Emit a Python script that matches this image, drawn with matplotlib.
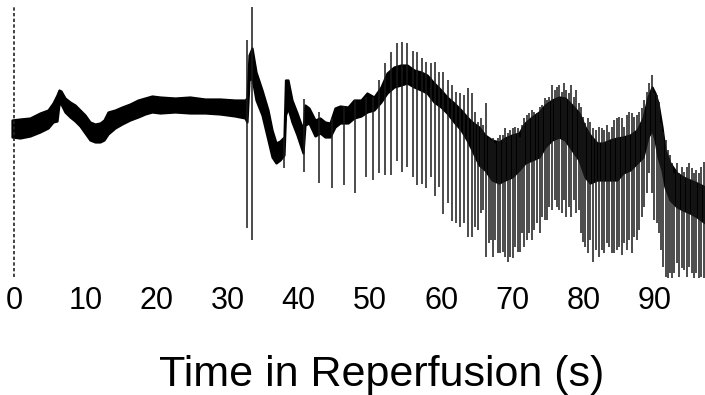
import matplotlib
matplotlib.use("Agg")
import matplotlib.pyplot as plt

plt.rcParams['font.family'] = ['Liberation Sans', 'DejaVu Sans']

# ---- data (time in s, amplitude in arbitrary units) ----
band_t = [-0.28, 0.84, 2.25, 3.65, 4.78, 5.48, 6.04, 6.32, 6.60, 7.16, 7.87, 8.57, 9.27, 9.97,
          10.67, 11.38, 12.08, 12.64, 13.20, 14.19, 15.17, 16.29, 17.42, 18.40, 19.38, 20.51,
          22.61, 24.72, 26.83, 28.93, 31.04, 32.44, 32.72, 33.01, 33.43, 33.99, 34.83, 35.67,
          36.24, 36.80, 37.36, 37.92, 38.13, 38.48, 39.04, 39.75, 40.59, 40.87, 41.43, 42.28,
          42.98, 43.68, 44.38, 45.08, 45.79, 46.91, 47.75, 48.74, 49.58, 50.56, 51.54, 52.39,
          53.37, 54.35, 55.20, 56.18, 57.16, 58.01, 58.99, 59.97, 60.81, 61.80, 62.78, 63.62,
          64.33, 65.31, 66.15, 67.13, 68.12, 68.96, 69.94, 70.93, 71.77, 72.75, 73.74, 74.58,
          75.56, 76.54, 77.39, 78.37, 79.35, 80.20, 80.90, 81.88, 82.72, 83.71, 84.69, 85.53,
          86.52, 87.50, 88.34, 89.04, 89.61, 90.03, 90.45, 91.01, 91.43, 92.13, 93.12, 93.96,
          94.94, 95.93, 97.05]
band_hi = [158, 159, 160, 165, 168, 175, 183, 188, 187, 180, 176, 173, 168, 163,
           156, 154, 155, 158, 166, 168, 171, 174, 178, 180, 182, 181,
           180, 181, 179, 179, 178, 178, 180, 223, 230, 206, 188, 168,
           148, 135, 137, 141, 198, 198, 178, 165, 148, 173, 170, 158,
           160, 156, 155, 170, 172, 171, 178, 178, 185, 181, 191, 205,
           211, 213, 213, 208, 206, 203, 195, 188, 181, 175, 168, 161,
           156, 151, 143, 138, 136, 140, 143, 145, 155, 161, 166, 173,
           178, 181, 180, 173, 165, 151, 143, 135, 135, 138, 140, 141,
           143, 148, 160, 181, 191, 185, 175, 151, 128, 115, 105, 101,
           98, 95, 91]
band_lo = [141, 140, 142, 146, 150, 156, 157, 174, 174, 166, 161, 157, 152, 145,
           138, 136, 136, 138, 144, 150, 154, 158, 161, 164, 166, 165,
           166, 165, 165, 164, 162, 160, 156, 198, 200, 178, 163, 138,
           121, 115, 118, 123, 163, 170, 156, 143, 125, 153, 155, 142,
           145, 141, 141, 151, 155, 155, 160, 162, 166, 168, 176, 185,
           191, 193, 195, 191, 188, 185, 176, 171, 165, 156, 148, 138,
           128, 113, 108, 98, 95, 98, 101, 108, 115, 118, 121, 131,
           138, 141, 138, 128, 118, 101, 95, 98, 98, 98, 98, 105,
           108, 115, 121, 141, 148, 138, 121, 108, 91, 78, 71, 68,
           65, 61, 55]

spike_t = [32.77, 33.38, 37.99, 40.69, 42.88, 44.70, 46.31, 47.96, 49.40, 50.46, 51.26, 52.11,
           52.91, 53.75, 54.54, 55.15, 56.00, 56.64, 57.26, 57.87, 58.53, 59.09, 59.69, 60.29,
           60.96, 61.56, 62.04, 62.64, 63.20, 63.81, 64.28,
           64.79, 65.17, 65.55, 65.91, 66.29, 66.67, 66.99, 67.28, 67.60, 67.94, 68.30, 68.68,
           69.00, 69.38, 69.71, 70.04, 70.41, 70.74, 71.03, 71.35, 71.67, 72.05, 72.37, 72.75,
           73.08, 73.46, 73.83, 74.16, 74.54, 74.86, 75.18, 75.56, 75.94, 76.26, 76.59, 76.97,
           77.29, 77.57, 77.91, 78.23, 78.61, 78.93, 79.31, 79.63, 79.92, 80.24, 80.62, 80.94,
           81.36, 81.74, 82.16, 82.54, 82.87, 83.24, 83.57, 83.95, 84.31, 84.65, 85.01, 85.35,
           85.72, 86.05, 86.42, 86.76, 87.12, 87.46, 87.82, 88.16, 88.53, 88.86, 89.23, 89.56,
           89.93, 90.27, 90.59, 90.87, 91.19, 91.53, 91.81, 92.13, 92.46, 92.74, 93.16, 93.44,
           93.78, 94.14, 94.48, 94.80, 95.18, 95.51, 95.79, 96.21, 96.49, 96.91]
spike_hi = [238, 271, 141, 179, 166, 160, 172, 178, 181, 181, 198, 215,
            226, 235, 236, 235, 227, 226, 220, 216, 215, 216, 206, 206,
            198, 193, 186, 185, 183, 190, 185,
            166, 156, 160, 153, 175, 140, 138, 140, 135, 140, 143, 143,
            150, 145, 148, 150, 151, 150, 141, 153, 160, 163, 165, 168,
            166, 165, 171, 173, 180, 178, 181, 193, 188, 191, 193, 186,
            195, 188, 185, 193, 181, 188, 175, 171, 161, 155, 160, 156,
            150, 148, 151, 150, 148, 153, 146, 151, 158, 160, 161, 160,
            151, 163, 166, 165, 161, 163, 166, 170, 178, 186, 195, 203,
            185, 183, 176, 155, 146, 138, 128, 123, 115, 105, 115, 105,
            111, 106, 111, 115, 110, 105, 108, 105, 111, 116]
spike_lo = [50, 38, 110, 106, 95, 90, 93, 85, 101, 98, 105, 103,
            103, 117, 106, 111, 101, 93, 94, 90, 101, 82, 91, 64,
            75, 57, 55, 51, 55, 41, 41,
            51, 48, 65, 68, 21, 35, 38, 21, 38, 25, 25, 26,
            21, 16, 21, 20, 31, 26, 26, 45, 31, 38, 45, 38,
            48, 55, 45, 61, 58, 58, 71, 68, 78, 71, 68, 65,
            78, 61, 71, 61, 78, 65, 68, 45, 36, 31, 25, 38,
            16, 28, 21, 28, 25, 35, 31, 25, 25, 28, 31, 23,
            35, 28, 38, 25, 41, 38, 48, 61, 71, 85, 105, 85,
            58, 55, 45, 28, 11, 1, 0, 5, -2, 5, 15, 1,
            10, 8, 1, 11, 5, -2, 5, -2, 1, -2]

xtick_vals = [0, 10, 20, 30, 40, 50, 60, 70, 80, 90]
xtick_labels = ['0', '10', '20', '30', '40', '50', '60', '70', '80', '90']
x_label = 'Time in Reperfusion (s)'

# ---- figure ----
fig = plt.figure(figsize=(7.05, 3.95), dpi=100)
ax = fig.add_axes([0, 117 / 395, 1, 278 / 395])

ax.vlines(spike_t, spike_lo, spike_hi, colors='#1a1a1a', linewidths=1.1)
ax.fill_between(band_t, band_lo, band_hi, color='black', linewidth=1.6, edgecolor='black')
ax.vlines([0], 1, 271, colors='#222222', linewidths=1.2, linestyles=(0, (2.0, 1.4)))

ax.set_xlim(-1.966, 97.05)
ax.set_ylim(0, 278)
for s in ax.spines.values():
    s.set_visible(False)
ax.set_yticks([])
ax.set_xticks(xtick_vals)
ax.set_xticklabels(xtick_labels, fontsize=22)
ax.tick_params(axis='x', length=0, pad=6)

fig.text(382 / 705, 1 - 386 / 395, x_label, fontsize=31, ha='center', va='baseline')

fig.savefig('out.png', dpi=100)
